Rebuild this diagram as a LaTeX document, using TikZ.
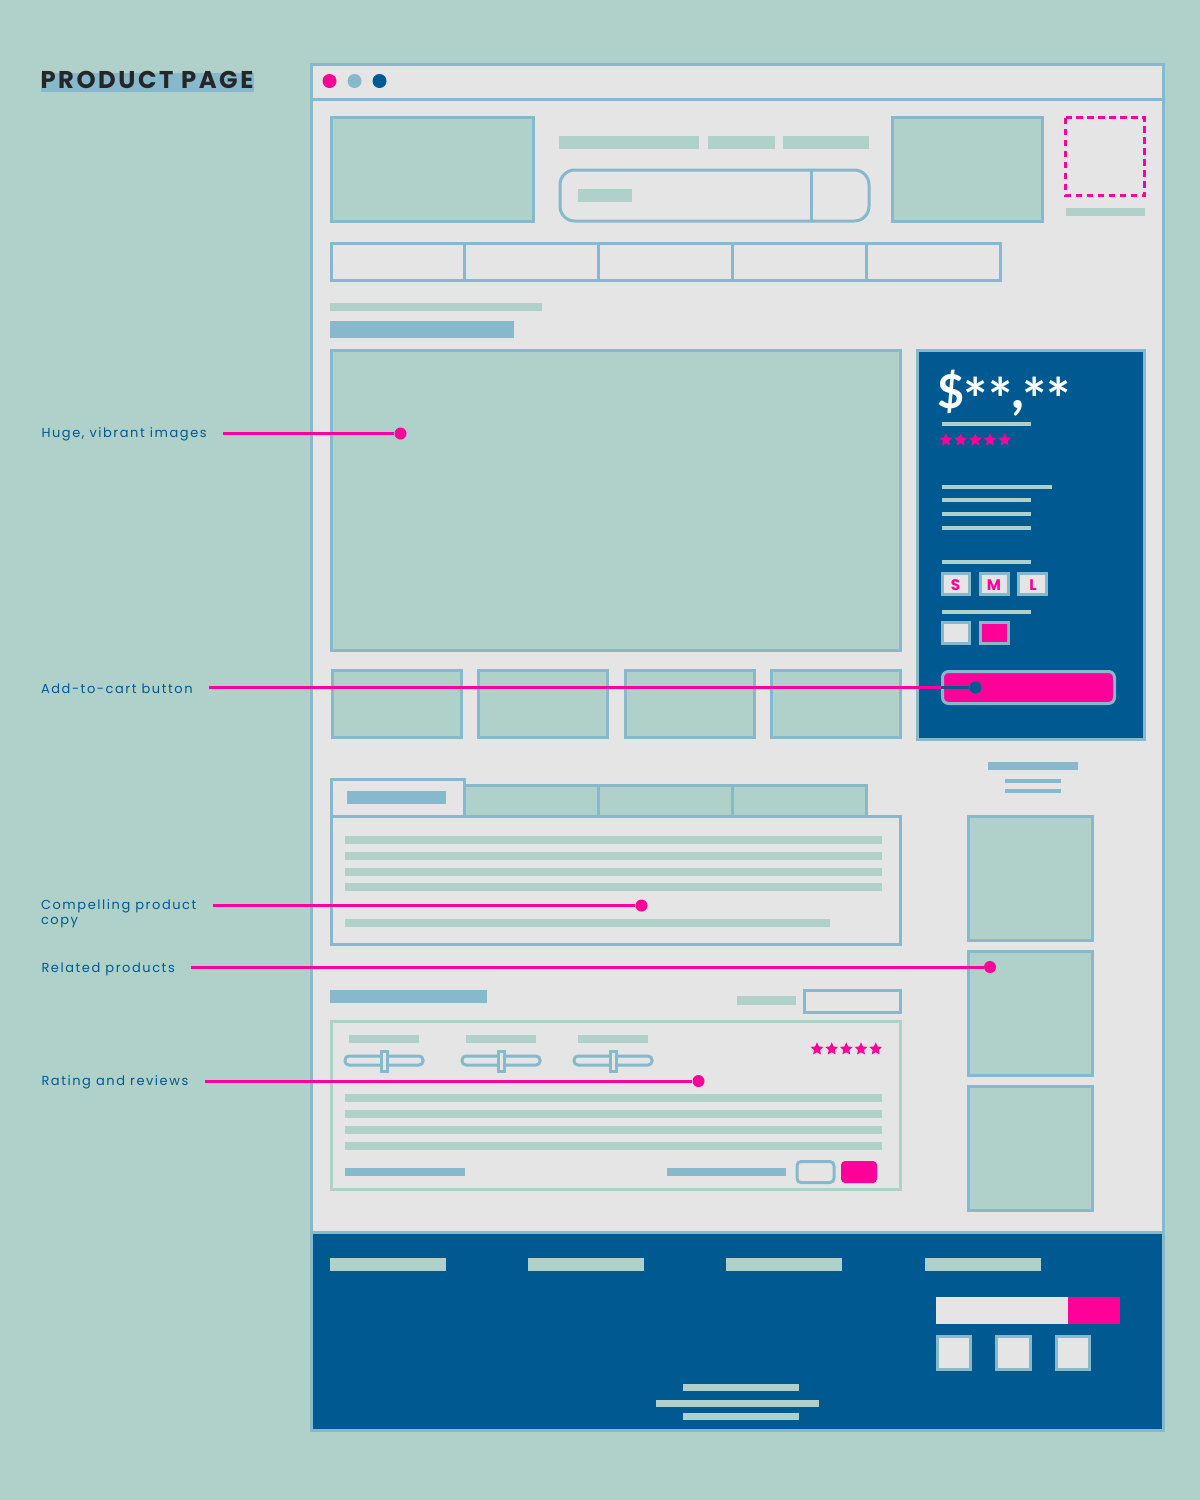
\documentclass[tikz,border=0pt]{standalone}
\usepackage{fontspec}
\usetikzlibrary{shapes.geometric}
\newfontfamily\titlefont[LetterSpace=10.5]{Poppins}
\newfontfamily\calloutfont[LetterSpace=12]{Poppins}
\newfontfamily\pricefont{Lato}
\newfontfamily\sizefont{Poppins}
\definecolor{mintcol}{RGB}{175,209,201}
\definecolor{paperpcol}{RGB}{229,229,229}
\definecolor{linecol}{RGB}{133,185,203}
\definecolor{navycol}{RGB}{0,90,146}
\definecolor{pinkcol}{RGB}{255,0,153}
\tikzset{every picture/.style={line width=0.75pt},
  framebox/.style={draw=linecol,line width=2.25pt},
  imagebox/.style={framebox,fill=mintcol},
  blankbox/.style={framebox,fill=paperpcol},
  callout/.style={draw=pinkcol,line width=2.25pt},
  calldot/.style={circle,fill=pinkcol,inner sep=0pt,minimum size=9pt},
  calltext/.style={anchor=west,inner sep=0pt,align=left,text=navycol,font=\calloutfont\fontsize{9.75}{11.5}\selectfont},
  ratestar/.style={star,star points=5,star point ratio=2.1,fill=pinkcol,inner sep=0pt,minimum size=10pt},
  sizetext/.style={text=pinkcol,inner sep=0pt,font=\sizefont\bfseries\fontsize{11.5}{11.5}\selectfont}}
\begin{document}
\begin{tikzpicture}[x=0.75pt,y=0.75pt,yscale=-1,xscale=1]
\useasboundingbox (0,0) rectangle (1200,1500);

%Background
\fill [mintcol] (0,0) rectangle (1200,1500);

%Title
\fill [linecol] (41,73) rectangle (254,92);
\node (titletext) [anchor=west,inner sep=0pt,text=black!85,font=\titlefont\bfseries\fontsize{18.2}{20}\selectfont] at (40,79.5) {PRODUCT PAGE};

%Browser window
\draw [blankbox] (311,64) rectangle (1163,1430);
\draw [framebox] (311,99) -- (1163,99);
\fill [pinkcol] (329.5,81) circle (7);
\fill [linecol] (354.5,81) circle (7);
\fill [navycol] (379.5,81) circle (7);

%Header
\draw [imagebox] (331,117.5) rectangle (533,221);
\fill [mintcol] (559,136) rectangle (699,149);
\fill [mintcol] (708,136) rectangle (775,149);
\fill [mintcol] (783,136) rectangle (869,149);
\draw [framebox,rounded corners=11pt] (560,170) rectangle (869,221);
\draw [framebox] (811,170) -- (811,221);
\fill [mintcol] (578,189) rectangle (632,202);
\draw [imagebox] (892,117.5) rectangle (1042,221);
\draw [draw=pinkcol,line width=2.25pt,dash pattern={on 4.9pt off 3.35pt}] (1065.5,117.5) rectangle (1144.5,195.5);
\fill [mintcol] (1065.5,208) rectangle (1144.5,216);

%Navigation
\draw [framebox] (331,243) rectangle (1000,280);
\draw [framebox] (464,243) -- (464,280);
\draw [framebox] (598,243) -- (598,280);
\draw [framebox] (732,243) -- (732,280);
\draw [framebox] (866,243) -- (866,280);

%Breadcrumb and heading
\fill [mintcol] (330,303) rectangle (542,311);
\fill [linecol] (330,321) rectangle (514,338);

%Huge image and thumbnails
\draw [imagebox] (331,350) rectangle (900,650);
\draw [imagebox] (332,670) rectangle (461,737);
\draw [imagebox] (478,670) rectangle (607,737);
\draw [imagebox] (625,670) rectangle (754,737);
\draw [imagebox] (771,670) rectangle (900,737);

%Buy panel
\draw [framebox,fill=navycol] (917,350) rectangle (1144,739);
\node (pricetext) [anchor=base west,inner sep=0pt,text=white,font=\pricefont\bfseries\fontsize{35}{35}\selectfont] at (937,408) {\$\hspace{-0.5pt}\raisebox{-9.5pt}{\fontsize{43}{43}\selectfont**}\hspace{-1pt}\raisebox{0pt}{\fontsize{42}{42}\selectfont,}\hspace{-1.5pt}\raisebox{-9.5pt}{\fontsize{43}{43}\selectfont**}};
\fill [mintcol] (942,422) rectangle (1031,426);
\node (pstar1) [ratestar] at (946,440) {};
\node (pstar2) [ratestar] at (960.7,440) {};
\node (pstar3) [ratestar] at (975.3,440) {};
\node (pstar4) [ratestar] at (990,440) {};
\node (pstar5) [ratestar] at (1004.7,440) {};
\fill [mintcol] (942,484.5) rectangle (1052,488.5);
\fill [mintcol] (942,498) rectangle (1031,502);
\fill [mintcol] (942,512) rectangle (1031,516);
\fill [mintcol] (942,525.5) rectangle (1031,529.5);
\fill [mintcol] (942,560) rectangle (1031,564);
\draw [blankbox] (942.5,573.5) rectangle (969.5,594.5);
\draw [blankbox] (980.5,573.5) rectangle (1008.5,594.5);
\draw [blankbox] (1018.5,573.5) rectangle (1046.5,594.5);
\node (sizes) [sizetext] at (955.5,585) {S};
\node (sizem) [sizetext] at (994,585) {M};
\node (sizel) [sizetext] at (1033,585) {L};
\fill [mintcol] (942,609.5) rectangle (1031,613.5);
\draw [blankbox] (942.5,622.5) rectangle (969.5,643.5);
\draw [framebox,fill=pinkcol] (980.5,622.5) rectangle (1008.5,643.5);
\draw [framebox,fill=pinkcol,rounded corners=4.5pt] (942.5,671.5) rectangle (1114.5,703.5);

%Related products
\fill [linecol] (988,762) rectangle (1078,770);
\fill [linecol] (1005,779) rectangle (1061,783);
\fill [linecol] (1005,788.5) rectangle (1061,792.5);
\draw [imagebox] (968,816) rectangle (1092,940);
\draw [imagebox] (968,951) rectangle (1092,1075);
\draw [imagebox] (968,1086) rectangle (1092,1210);

%Tabs
\draw [imagebox] (464,785) rectangle (598,816);
\draw [imagebox] (598,785) rectangle (732,816);
\draw [imagebox] (732,785) rectangle (866,816);
\draw [blankbox] (331,816) rectangle (900,944);
\draw [blankbox] (331,816) -- (331,779) -- (464,779) -- (464,816);
\draw [framebox] (331,816) -- (464,816);
\fill [linecol] (347,790.5) rectangle (446,804);
\fill [mintcol] (345,836) rectangle (882,844);
\fill [mintcol] (345,852) rectangle (882,860);
\fill [mintcol] (345,867.5) rectangle (882,875.5);
\fill [mintcol] (345,883) rectangle (882,891);
\fill [mintcol] (345,919) rectangle (830,927);

%Reviews
\fill [linecol] (330,990) rectangle (487,1003);
\fill [mintcol] (737,996) rectangle (796,1005);
\draw [framebox] (804,990) rectangle (900,1012);
\draw [draw=mintcol,line width=2.25pt] (331,1021) rectangle (900,1189);
\fill [mintcol] (349,1035) rectangle (419,1043);
\fill [mintcol] (466,1035) rectangle (536,1043);
\fill [mintcol] (578,1035) rectangle (648,1043);
\draw [framebox,rounded corners=3pt] (345,1056) rectangle (423,1065);
\draw [framebox,rounded corners=3pt] (462,1056) rectangle (540,1065);
\draw [framebox,rounded corners=3pt] (574,1056) rectangle (652,1065);
\draw [blankbox] (381,1051) rectangle (387,1071);
\draw [blankbox] (498,1051) rectangle (504,1071);
\draw [blankbox] (610,1051) rectangle (616,1071);
\node (rstar1) [ratestar] at (817,1049) {};
\node (rstar2) [ratestar] at (831.7,1049) {};
\node (rstar3) [ratestar] at (846.3,1049) {};
\node (rstar4) [ratestar] at (861,1049) {};
\node (rstar5) [ratestar] at (875.7,1049) {};
\fill [mintcol] (345,1094) rectangle (882,1102);
\fill [mintcol] (345,1110) rectangle (882,1118);
\fill [mintcol] (345,1126) rectangle (882,1134);
\fill [mintcol] (345,1142) rectangle (882,1150);
\fill [linecol] (345,1168) rectangle (465,1176);
\fill [linecol] (667,1168) rectangle (786,1176);
\draw [framebox,rounded corners=3pt] (797,1161.5) rectangle (834,1182.5);
\fill [pinkcol,rounded corners=3pt] (841,1161) rectangle (877,1183);

%Footer
\draw [framebox,fill=navycol] (311,1232) rectangle (1163,1430);
\fill [mintcol] (330,1258) rectangle (446,1271);
\fill [mintcol] (528,1258) rectangle (644,1271);
\fill [mintcol] (726,1258) rectangle (842,1271);
\fill [mintcol] (925,1258) rectangle (1041,1271);
\fill [paperpcol] (936,1297) rectangle (1068,1324);
\fill [pinkcol] (1068,1297) rectangle (1120,1324);
\draw [blankbox] (937,1336) rectangle (970.5,1369.5);
\draw [blankbox] (996,1336) rectangle (1030,1369.5);
\draw [blankbox] (1056,1336) rectangle (1089.5,1369.5);
\fill [mintcol] (683,1384) rectangle (799,1391);
\fill [mintcol] (656,1400) rectangle (819,1407);
\fill [mintcol] (683,1413) rectangle (799,1420);

% Callouts
\node (hugetext) [calltext] at (41,434) {Huge, vibrant images};
\node (carttext) [calltext] at (40.5,689) {Add-to-cart button};
\node (copytext) [calltext] at (40.5,914) {Compelling product\\copy};
\node (relatedtext) [calltext] at (41,969.5) {Related products};
\node (ratingtext) [calltext] at (41,1082) {Rating and reviews};

\node (hugedot) [calldot] at (400.5,433.5) {};
\node (cartdot) [calldot,fill=navycol] at (975.5,687.5) {};
\node (copydot) [calldot] at (641.5,905.5) {};
\node (relateddot) [calldot] at (990,967) {};
\node (ratingdot) [calldot] at (698.5,1081) {};
\coordinate (cartedge) at (941,687.5);

\draw [callout,shorten <=12pt] (hugedot -| hugetext.east) -- (hugedot);
\draw [callout,shorten <=12pt] (cartedge -| carttext.east) -- (cartedge);
\draw [callout,draw=navycol] (cartedge) -- (cartdot);
\draw [callout,shorten <=12pt] (copydot -| copytext.east) -- (copydot);
\draw [callout,shorten <=12pt] (relateddot -| relatedtext.east) -- (relateddot);
\draw [callout,shorten <=12pt] (ratingdot -| ratingtext.east) -- (ratingdot);

\end{tikzpicture}
\end{document}
